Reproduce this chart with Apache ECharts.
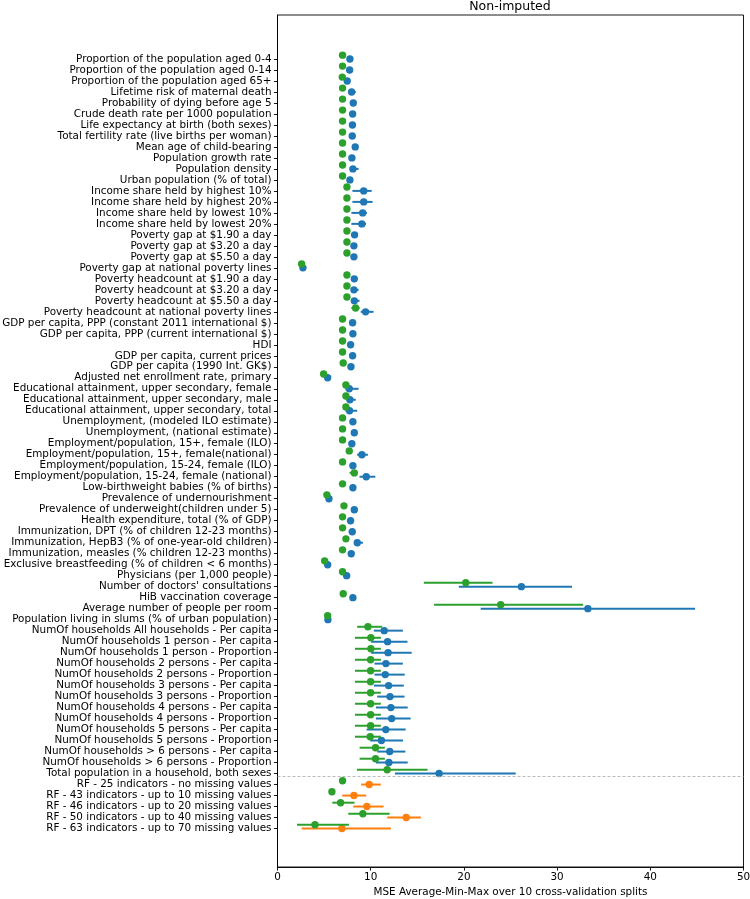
<!DOCTYPE html>
<html>
<head>
<meta charset="utf-8">
<script src="https://cdn.jsdelivr.net/npm/echarts@6/dist/echarts.min.js"></script>
<style>
html,body{margin:0;padding:0;background:#fff;}
#chart{width:750px;height:899px;}
</style>
</head>
<body>
<div id="chart"></div>
<script>
const categories = [
  "Proportion of the population aged 0-4",
  "Proportion of the population aged 0-14",
  "Proportion of the population aged 65+",
  "Lifetime risk of maternal death",
  "Probability of dying before age 5",
  "Crude death rate per 1000 population",
  "Life expectancy at birth (both sexes)",
  "Total fertility rate (live births per woman)",
  "Mean age of child-bearing",
  "Population growth rate",
  "Population density",
  "Urban population (% of total)",
  "Income share held by highest 10%",
  "Income share held by highest 20%",
  "Income share held by lowest 10%",
  "Income share held by lowest 20%",
  "Poverty gap at $1.90 a day",
  "Poverty gap at $3.20 a day",
  "Poverty gap at $5.50 a day",
  "Poverty gap at national poverty lines",
  "Poverty headcount at $1.90 a day",
  "Poverty headcount at $3.20 a day",
  "Poverty headcount at $5.50 a day",
  "Poverty headcount at national poverty lines",
  "GDP per capita, PPP (constant 2011 international $)",
  "GDP per capita, PPP (current international $)",
  "HDI",
  "GDP per capita, current prices",
  "GDP per capita (1990 Int. GK$)",
  "Adjusted net enrollment rate, primary",
  "Educational attainment, upper secondary, female",
  "Educational attainment, upper secondary, male",
  "Educational attainment, upper secondary, total",
  "Unemployment, (modeled ILO estimate)",
  "Unemployment, (national estimate)",
  "Employment/population, 15+, female (ILO)",
  "Employment/population, 15+, female(national)",
  "Employment/population, 15-24, female (ILO)",
  "Employment/population, 15-24, female (national)",
  "Low-birthweight babies (% of births)",
  "Prevalence of undernourishment",
  "Prevalence of underweight(children under 5)",
  "Health expenditure, total (% of GDP)",
  "Immunization, DPT (% of children 12-23 months)",
  "Immunization, HepB3 (% of one-year-old children)",
  "Immunization, measles (% children 12-23 months)",
  "Exclusive breastfeeding (% of children < 6 months)",
  "Physicians (per 1,000 people)",
  "Number of doctors' consultations",
  "HiB vaccination coverage",
  "Average number of people per room",
  "Population living in slums (% of urban population)",
  "NumOf households All households - Per capita",
  "NumOf households 1 person - Per capita",
  "NumOf households 1 person - Proportion",
  "NumOf households 2 persons - Per capita",
  "NumOf households 2 persons - Proportion",
  "NumOf households 3 persons - Per capita",
  "NumOf households 3 persons - Proportion",
  "NumOf households 4 persons - Per capita",
  "NumOf households 4 persons - Proportion",
  "NumOf households 5 persons - Per capita",
  "NumOf households 5 persons - Proportion",
  "NumOf households > 6 persons - Per capita",
  "NumOf households > 6 persons - Proportion",
  "Total population in a household, both sexes",
  "RF - 25 indicators - no missing values",
  "RF - 43 indicators - up to 10 missing values",
  "RF - 46 indicators - up to 20 missing values",
  "RF - 50 indicators - up to 40 missing values",
  "RF - 63 indicators - up to 70 missing values"
];

// Blue series: single-indicator models (rows 0-65)
const modelAvg = [7.77,7.74,7.48,7.95,8.13,8.06,8.04,8.02,8.34,7.98,8.09,7.77,
  9.25,9.25,9.14,9.05,8.27,8.2,8.2,2.73,8.24,8.2,8.24,9.45,
  8.06,8.09,7.84,8.06,7.88,5.38,7.7,7.77,7.73,8.09,8.24,7.98,
  9.06,8.09,9.52,8.09,5.52,8.24,7.84,8.02,8.56,7.91,5.38,7.42,
  26.17,8.09,33.3,5.41,11.45,11.81,11.86,11.63,11.56,11.92,12.07,12.17,
  12.25,11.62,11.15,12.04,11.95,17.34];
const modelMin = [7.6,7.6,7.3,7.75,7.95,7.9,7.85,7.85,8.15,7.8,7.9,7.6,
  8.04,8.04,7.93,7.93,8.1,8.05,8.05,2.55,8.05,8.0,8.05,8.93,
  7.9,7.9,7.65,7.9,7.7,5.2,7.3,7.4,7.3,7.9,8.05,7.8,
  8.55,7.9,8.8,7.9,5.35,8.05,7.65,7.85,8.3,7.75,5.2,7.25,
  19.45,7.9,21.8,5.25,10.34,10.05,10.05,10.41,10.41,10.34,10.7,10.56,
  10.56,9.56,9.95,10.7,10.56,12.6];
const modelMax = [7.95,7.9,7.65,8.4,8.3,8.2,8.2,8.2,8.5,8.15,8.7,7.95,
  10.1,10.2,9.6,9.5,8.45,8.4,8.4,2.9,8.4,8.7,8.8,10.3,
  8.25,8.25,8.0,8.25,8.05,5.55,8.7,8.4,8.55,8.25,8.4,8.15,
  9.7,8.25,10.5,8.25,5.7,8.4,8.0,8.2,9.17,8.1,5.55,7.6,
  31.6,8.25,44.8,5.6,13.45,13.95,14.4,13.45,13.65,13.55,13.63,13.97,
  14.28,13.75,13.47,13.72,13.97,25.56];

// Orange series: RF models (rows 66-70)
const rfAvg = [9.84,8.2,9.59,13.81,6.91];
const rfMin = [8.98,6.95,8.13,11.77,2.59];
const rfMax = [11.09,9.52,11.38,15.38,12.17];

// Green series: baseline (rows 0-70)
const baseAvg = [6.98,6.98,6.95,6.98,6.98,6.98,6.98,6.98,6.98,6.98,6.98,6.98,
  7.45,7.45,7.45,7.45,7.45,7.45,7.45,2.59,7.45,7.45,7.45,8.38,
  6.98,6.98,6.98,6.98,7.05,4.95,7.34,7.34,7.34,6.98,6.98,6.98,
  7.7,6.98,8.24,6.98,5.3,7.13,6.98,6.98,7.34,6.98,5.06,6.98,
  20.2,7.05,23.95,5.38,9.7,10.02,10.02,9.99,9.99,9.99,9.99,9.99,
  9.99,9.99,9.95,10.52,10.52,11.77,6.98,5.84,6.77,9.16,4.02];
const baseMin = [6.85,6.85,6.8,6.85,6.85,6.85,6.85,6.85,6.85,6.85,6.85,6.85,
  7.3,7.3,7.3,7.3,7.3,7.3,7.3,2.45,7.3,7.3,7.3,7.93,
  6.85,6.85,6.85,6.85,6.9,4.8,7.2,7.2,7.2,6.85,6.85,6.85,
  7.5,6.85,7.73,6.85,5.15,7.0,6.85,6.85,7.2,6.85,4.9,6.85,
  15.7,6.9,16.8,5.25,8.55,8.31,8.31,8.31,8.31,8.31,8.31,8.31,
  8.31,8.31,8.31,8.81,8.81,8.52,6.8,5.7,5.88,7.59,2.09];
const baseMax = [7.1,7.1,7.1,7.1,7.1,7.1,7.1,7.1,7.1,7.1,7.1,7.1,
  7.6,7.6,7.6,7.6,7.6,7.6,7.6,2.75,7.6,7.6,7.6,8.81,
  7.1,7.1,7.1,7.1,7.2,5.1,7.5,7.5,7.5,7.1,7.1,7.1,
  7.95,7.1,8.55,7.1,5.45,7.3,7.1,7.1,7.5,7.1,5.2,7.1,
  23.07,7.2,32.8,5.5,11.23,11.09,11.09,11.09,11.09,11.09,11.09,11.09,
  11.09,11.09,11.09,11.52,11.52,16.1,7.15,6.0,8.27,12.03,7.66];

const xTicks = [0,10,20,30,40,50];
const separatorRow = 65.2;

const nModel = modelAvg.length;
const modelData = modelAvg.map((v,i)=>[v, modelMin[i], modelMax[i], i]);
const rfData = rfAvg.map((v,i)=>[v, rfMin[i], rfMax[i], nModel + i]);
const baseData = baseAvg.map((v,i)=>[v, baseMin[i], baseMax[i], i]);
const rowIdx = categories.map((c,i)=>i);

function makeRender(color, offset) {
  return function(params, api) {
    const avg = api.value(0), mn = api.value(1), mx = api.value(2), y = api.value(3) + offset;
    const p0 = api.coord([mn, y]), p1 = api.coord([mx, y]), pc = api.coord([avg, y]);
    return {type:'group', children:[
      {type:'line', shape:{x1:p0[0], y1:p0[1], x2:p1[0], y2:p1[1]}, style:{stroke:color, lineWidth:2}},
      {type:'circle', shape:{cx:pc[0], cy:pc[1], r:3.7}, style:{fill:color}}
    ]};
  };
}

const FONT = 'DejaVu Sans';
const FS = 10.4;
const chart = echarts.init(document.getElementById('chart'), null, {renderer:'canvas'});
chart.setOption({
  animation:false,
  backgroundColor:'#fff',
  textStyle:{fontFamily:FONT},
  title:{text:'Non-imputed', left:510, top:0, padding:0, textAlign:'center',
    textStyle:{fontFamily:FONT, fontSize:12.5, fontWeight:'normal', color:'#000'}},
  grid:{left:277.5, right:6.5, top:15, bottom:32, show:true, borderColor:'#000', borderWidth:0.9,
    containLabel:false, outerBoundsMode:'none'},
  xAxis:{type:'value', min:0, max:50, interval:10,
    name:'MSE Average-Min-Max over 10 cross-validation splits', nameLocation:'middle', nameGap:18,
    nameTextStyle:{fontFamily:FONT, fontSize:FS, color:'#000'},
    axisLine:{show:true, onZero:false, lineStyle:{color:'#000', width:0.9}},
    axisTick:{show:true, inside:false, length:3.6, lineStyle:{color:'#000', width:0.9}},
    axisLabel:{fontFamily:FONT, fontSize:FS, color:'#000', margin:5, customValues:xTicks},
    splitLine:{show:false}},
  yAxis:{type:'value', inverse:true, min:-4, max:73.5,
    axisLine:{show:true, onZero:false, lineStyle:{color:'#000', width:0.9}},
    axisTick:{show:true, inside:false, length:3.6, lineStyle:{color:'#000', width:0.9}, customValues:rowIdx},
    axisLabel:{fontFamily:FONT, fontSize:FS, color:'#000', margin:6, customValues:rowIdx,
      formatter:function(v){ return categories[Math.round(v)] || ''; }},
    splitLine:{show:false}},
  series:[
    {type:'custom', name:'model', renderItem:makeRender('#1f77b4', 0), data:modelData,
      encode:{x:[0,1,2], y:3}, z:2,
      markLine:{silent:true, symbol:'none', label:{show:false},
        lineStyle:{color:'#aaaaaa', type:[3,2], width:0.8},
        data:[{yAxis:separatorRow}]}},
    {type:'custom', name:'rf', renderItem:makeRender('#ff7f0e', 0), data:rfData,
      encode:{x:[0,1,2], y:3}, z:2},
    {type:'custom', name:'baseline', renderItem:makeRender('#2ca02c', -0.35), data:baseData,
      encode:{x:[0,1,2], y:3}, z:3}
  ]
});
</script>
</body>
</html>
